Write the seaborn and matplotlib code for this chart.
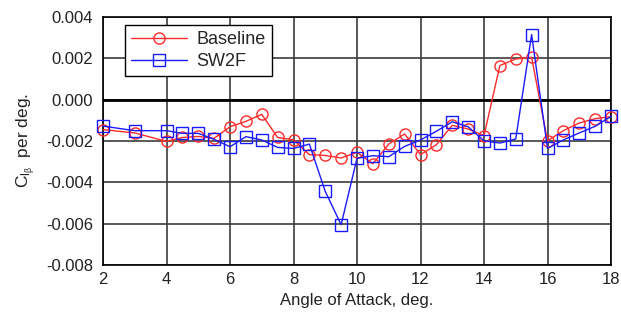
import matplotlib
matplotlib.use("Agg")
import matplotlib.pyplot as plt
import seaborn as sns
import pandas as pd
from matplotlib.ticker import FuncFormatter

# Angle of attack stations (deg.)
alpha = [2, 3, 4, 4.5, 5, 5.5, 6, 6.5, 7, 7.5, 8, 8.5, 9, 9.5, 10, 10.5,
         11, 11.5, 12, 12.5, 13, 13.5, 14, 14.5, 15, 15.5, 16, 16.5, 17, 17.5, 18]

# Roll-moment derivative per degree of sideslip
baseline = [-0.00145, -0.00161, -0.00202, -0.00183, -0.00178, -0.00187, -0.00131,
            -0.00105, -0.00071, -0.00183, -0.00194, -0.00266, -0.00270, -0.00282,
            -0.00255, -0.00310, -0.00215, -0.00166, -0.00266, -0.00218, -0.00124,
            -0.00142, -0.00174, 0.00165, 0.00197, 0.00205, -0.00199, -0.00150,
            -0.00113, -0.00092, -0.00082]
sw2f = [-0.00128, -0.00150, -0.00150, -0.00163, -0.00163, -0.00192, -0.00228,
        -0.00179, -0.00195, -0.00231, -0.00236, -0.00215, -0.00444, -0.00605,
        -0.00284, -0.00271, -0.00276, -0.00226, -0.00195, -0.00153, -0.00107,
        -0.00131, -0.00199, -0.00210, -0.00190, 0.00315, -0.00236, -0.00195,
        -0.00161, -0.00129, -0.00081]

series_names = ["Baseline", "SW2F"]
x_ticks = [2, 4, 6, 8, 10, 12, 14, 16, 18]
y_ticks = [-0.008, -0.006, -0.004, -0.002, 0.000, 0.002, 0.004]

df = pd.DataFrame({
    "alpha": alpha * 2,
    "clb": baseline + sw2f,
    "config": [series_names[0]] * len(alpha) + [series_names[1]] * len(alpha),
})

sns.set_style("white")
plt.rcParams["font.family"] = ["Liberation Sans", "DejaVu Sans"]
plt.rcParams["axes.unicode_minus"] = False
plt.rcParams["mathtext.fontset"] = "custom"
plt.rcParams["mathtext.rm"] = "Liberation Sans"
plt.rcParams["mathtext.it"] = "Liberation Sans"

fig = plt.figure(figsize=(6.21, 3.2), dpi=100)
ax = fig.add_axes([103 / 621, 1 - 265 / 320, 508 / 621, 248 / 320])

styles = {
    "Baseline": dict(color="#ff2a2a", marker="o"),
    "SW2F": dict(color="#1a1aff", marker="s"),
}
for name in series_names:
    st = styles[name]
    sns.lineplot(data=df[df["config"] == name], x="alpha", y="clb", ax=ax,
                 color=st["color"], marker=st["marker"], markersize=8,
                 markerfacecolor="none", markeredgecolor=st["color"],
                 markeredgewidth=1.0, linewidth=1.0, label=name,
                 estimator=None, sort=False, zorder=3, clip_on=False)

ax.set_xlim(2, 18)
ax.set_ylim(-0.008, 0.004)
ax.set_xticks(x_ticks)
ax.set_yticks(y_ticks)
ax.yaxis.set_major_formatter(FuncFormatter(lambda v, p: f"{v:.3f}" if abs(v) > 1e-9 else "0.000"))
ax.grid(True, color="#3c3c3c", linewidth=1.2)
ax.set_axisbelow(True)
ax.axhline(0, color="black", linewidth=2.0, zorder=2)
for sp in ax.spines.values():
    sp.set_color("black")
    sp.set_linewidth(1.2)
ax.tick_params(axis="both", length=0, labelsize=12, colors="#222222")
ax.tick_params(axis="y", pad=7)
ax.tick_params(axis="x", pad=5)

ax.set_xlabel("Angle of Attack, deg.", fontsize=12, color="#222222", labelpad=4)
ax.set_ylabel(r"C$_{\mathregular{l}_{\mathregular{\beta}}}$  per deg.",
              fontsize=12.5, color="#222222", labelpad=6)

leg = ax.legend(loc="upper left", bbox_to_anchor=(22 / 508, 1 - 8 / 248),
                fontsize=13, frameon=True, fancybox=False, shadow=False,
                handlelength=3.1, borderpad=0.35, labelspacing=0.25,
                handletextpad=0.5, borderaxespad=0)
leg.get_frame().set_edgecolor("black")
leg.get_frame().set_linewidth(1.0)
leg.get_frame().set_alpha(1)

fig.savefig("out.png", dpi=100, facecolor="white")
